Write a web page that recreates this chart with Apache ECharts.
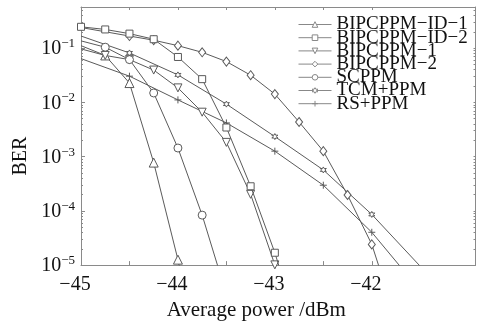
<!DOCTYPE html>
<html>
<head>
<meta charset="utf-8">
<script src="https://cdn.jsdelivr.net/npm/echarts@6/dist/echarts.min.js"></script>
<style>
  html, body { margin: 0; padding: 0; background: #fff; }
  #main { width: 484px; height: 326px; }
</style>
</head>
<body>
<div id="main"></div>
<script>
// values (BER vs average power in dBm)
var id1X = [-45, -44.75, -44.5, -44.25, -44, -43.75];
var id1Y = [0.111, 0.0733, 0.0227, 7.76e-4, 1.26e-5, 1.7e-7];

var id2X = [-45, -44.75, -44.5, -44.25, -44, -43.75, -43.5, -43.25, -43, -42.75];
var id2Y = [0.247, 0.221, 0.185, 0.146, 0.0687, 0.0268, 3.44e-3, 2.84e-4, 1.69e-5, 6e-7];

var b1X = [-45, -44.75, -44.5, -44.25, -44, -43.75, -43.5, -43.25, -43, -42.75];
var b1Y = [0.0968, 0.0733, 0.0614, 0.0394, 0.0185, 6.59e-3, 1.83e-3, 2.02e-4, 1.01e-5, 1e-6];

var b2X = [-45, -44.5, -44.25, -44, -43.75, -43.5, -43.25, -43, -42.75, -42.5, -42.25, -42, -41.75];
var b2Y = [0.24, 0.167, 0.14, 0.111, 0.0837, 0.0565, 0.0317, 0.0142, 4.35e-3, 1.26e-3, 1.96e-4, 2.41e-5, 1e-6];

var scX = [-45, -44.75, -44.5, -44.25, -44, -43.75, -43.5];
var scY = [0.136, 0.104, 0.0614, 0.0149, 1.44e-3, 8.34e-5, 2.9e-6];

var tcmX = [-45, -44.5, -44, -43.5, -43, -42.5, -42, -41.5];
var tcmY = [0.167, 0.0815, 0.0321, 9.29e-3, 2.34e-3, 5.68e-4, 8.59e-5, 9.5e-6];

var rsX = [-45, -44.5, -44, -43.5, -43, -42.5, -42, -41.5];
var rsY = [0.064, 0.0304, 0.0111, 4.18e-3, 1.26e-3, 2.97e-4, 4.03e-5, 3.4e-6];

var legendNames = ['BIPCPPM−ID−1', 'BIPCPPM−ID−2', 'BIPCPPM−1', 'BIPCPPM−2', 'SCPPM', 'TCM+PPM', 'RS+PPM'];
var xTicks = [-45, -44.5, -44, -43.5, -43, -42.5, -42];
var xLabels = [-45, -44, -43, -42];
var yDecades = [1e-5, 1e-4, 1e-3, 1e-2, 1e-1];

var font = 'Liberation Serif';
var ink = '#5a5a5a';
var frame = '#8a8a8a';

var minorY = [];
for (var e = -5; e <= -1; e++) {
  for (var m = 2; m <= 9; m++) {
    var v = m * Math.pow(10, e);
    if (v < 0.57) minorY.push(v);
  }
}

// first point sits on the left frame; most curves show no marker there
function pairs(xs, ys, hideFirst) {
  return xs.map(function (x, i) {
    if (hideFirst && i === 0) return { value: [x, ys[i]], symbol: 'none' };
    return [x, ys[i]];
  });
}

function mkSeries(name, xs, ys, symbol, size, hideFirst, z) {
  return {
    name: name,
    type: 'line',
    data: pairs(xs, ys, hideFirst),
    clip: true,
    z: z || 2,
    symbol: symbol,
    symbolSize: size,
    lineStyle: { color: ink, width: 1 },
    itemStyle: { color: '#fff', borderColor: ink, borderWidth: 1 },
    emphasis: { disabled: true }
  };
}

var triDown = 'path://M0,0L10,0L5,9Z';
var star6 = 'path://M5,0L6.3,2.8L9.3,2.5L7.5,5L9.3,7.5L6.3,7.2L5,10L3.7,7.2L0.7,7.5L2.5,5L0.7,2.5L3.7,2.8Z';
var plus = 'path://M5,0L5,10M0,5L10,5';

var chart = echarts.init(document.getElementById('main'));

var option = {
  animation: false,
  backgroundColor: '#fff',
  grid: { left: 81, right: 8.5, top: 7, bottom: 54 },
  legend: {
    data: legendNames,
    orient: 'vertical',
    left: 298,
    top: 15,
    padding: 0,
    itemWidth: 33,
    itemHeight: 7,
    itemGap: -5.8,
    lineStyle: { width: 1, color: '#888' },
    itemStyle: { borderWidth: 1, borderColor: '#888', color: '#fff' },
    textStyle: { fontFamily: font, fontSize: 19, color: '#111' }
  },
  xAxis: [{
    type: 'value',
    min: -45,
    max: -40.93,
    position: 'bottom',
    name: 'Average power /dBm',
    nameLocation: 'middle',
    nameGap: 31,
    nameTextStyle: { fontFamily: font, fontSize: 21, color: '#111', padding: [0, 44, 0, 0] },
    axisLine: { lineStyle: { color: frame } },
    axisTick: { inside: true, length: 4, lineStyle: { color: frame }, customValues: xTicks },
    axisLabel: {
      customValues: xLabels,
      fontFamily: font, fontSize: 20, color: '#111', margin: 10,
      padding: [0, 12, 0, 0],
      formatter: function (v) { return String(v).replace('-', '−'); }
    },
    splitLine: { show: false }
  }, {
    type: 'value',
    min: -45,
    max: -40.93,
    position: 'top',
    axisLine: { lineStyle: { color: frame } },
    axisTick: { inside: true, length: 3, lineStyle: { color: frame }, customValues: xTicks },
    axisLabel: { show: false },
    splitLine: { show: false }
  }],
  yAxis: [{
    type: 'log',
    min: 1e-5,
    max: 0.573,
    position: 'left',
    name: 'BER',
    nameLocation: 'middle',
    nameRotate: 90,
    nameGap: 50,
    nameTextStyle: { fontFamily: font, fontSize: 20, color: '#111', padding: [0, 40, 0, 0] },
    axisLine: { lineStyle: { color: frame } },
    axisTick: { inside: true, length: 4, lineStyle: { color: frame }, customValues: yDecades },
    axisLabel: {
      customValues: yDecades,
      margin: 6,
      formatter: function (v) {
        var ex = Math.round(Math.log10(v));
        return '{b|10}{s|' + String(ex).replace('-', '−') + '}';
      },
      rich: {
        b: { fontFamily: font, fontSize: 20, color: '#111', verticalAlign: 'bottom' },
        s: { fontFamily: font, fontSize: 13, color: '#111', verticalAlign: 'bottom', padding: [0, 0, 9, 0] }
      }
    },
    splitLine: { show: false }
  }, {
    type: 'log',
    min: 1e-5,
    max: 0.573,
    position: 'left',
    axisLine: { show: false },
    axisTick: { inside: true, length: 2, lineStyle: { color: frame }, customValues: minorY },
    axisLabel: { show: false },
    splitLine: { show: false }
  }, {
    type: 'log',
    min: 1e-5,
    max: 0.573,
    position: 'right',
    axisLine: { lineStyle: { color: frame } },
    axisTick: { inside: true, length: 2, lineStyle: { color: frame }, customValues: minorY.concat(yDecades) },
    axisLabel: { show: false },
    splitLine: { show: false }
  }],
  series: [
    mkSeries(legendNames[0], id1X, id1Y, 'triangle', 9, true),
    mkSeries(legendNames[3], b2X, b2Y, 'diamond', [7, 9], true),
    mkSeries(legendNames[1], id2X, id2Y, 'rect', 7, false, 3),
    mkSeries(legendNames[2], b1X, b1Y, triDown, 8, true),
    mkSeries(legendNames[4], scX, scY, 'circle', 8, true),
    mkSeries(legendNames[5], tcmX, tcmY, star6, 6, true),
    mkSeries(legendNames[6], rsX, rsY, plus, 7, true)
  ]
};

chart.setOption(option);
</script>
</body>
</html>
